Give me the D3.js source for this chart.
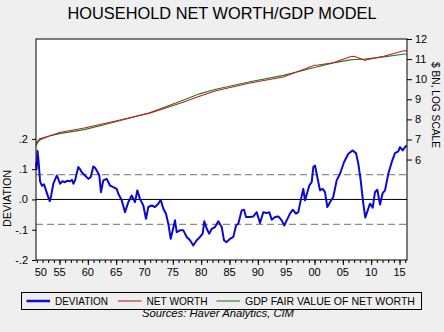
<!DOCTYPE html>
<html><head><meta charset="utf-8">
<script src="https://cdn.jsdelivr.net/npm/d3@7"></script>
<style>
body{margin:0;background:#efefef}
svg{display:block}
text{font-family:"Liberation Sans",Arial,sans-serif;fill:#000}
</style>
</head><body>
<svg id="chart" width="444" height="332"></svg>
<script>
// Household net worth vs. GDP-implied fair value (log levels) and their deviation
const title = "HOUSEHOLD NET WORTH/GDP MODEL";

// Deviation of log net worth from fair value (left axis)
const devYears = [1950.85,1950.94,1951.12,1951.29,1951.56,1951.91,1952.26,1952.62,1952.97,1953.27,1953.5,1953.91,1954.51,1954.74,1955.09,1955.53,1955.97,1956.32,1956.85,1957.2,1957.44,1957.74,1958.32,1958.62,1958.92,1959.5,1960.08,1960.51,1960.96,1961.26,1961.56,1962.02,1962.32,1962.73,1963.33,1963.91,1964.49,1965.09,1965.38,1965.98,1966.56,1967.14,1967.74,1968.32,1968.73,1969.2,1969.79,1970.26,1970.67,1971.27,1971.85,1972.43,1972.86,1973.32,1973.79,1974.2,1974.62,1974.98,1975.38,1975.68,1976.26,1976.85,1977.45,1978.03,1978.61,1979.21,1979.79,1980.27,1980.55,1980.98,1981.43,1981.86,1982.44,1983.02,1983.62,1984.03,1984.5,1985.09,1985.67,1986.15,1986.55,1987.15,1987.56,1987.91,1988.62,1989.2,1989.8,1990.38,1990.96,1991.56,1992.02,1992.45,1993.03,1993.61,1994.21,1994.67,1995.09,1995.67,1996.15,1996.73,1997.14,1997.56,1998.02,1998.32,1998.73,1999.08,1999.5,1999.79,2000.09,2000.49,2000.97,2001.44,2001.85,2002.26,2002.73,2003.31,2003.91,2004.5,2005.2,2005.96,2006.74,2007.32,2007.73,2008.15,2008.61,2008.96,2009.39,2009.79,2010.27,2010.67,2011.08,2011.56,2012.03,2012.44,2013.02,2013.62,2014.2,2014.78,2015.08,2015.56,2015.97,2016.27];
const devValues = [0.12,0.10,0.16,0.13,0.06,0.045,0.05,0.03,0.01,-0.006,0.01,0.052,0.079,0.07,0.052,0.06,0.057,0.062,0.060,0.065,0.052,0.063,0.107,0.10,0.09,0.079,0.068,0.074,0.109,0.105,0.096,0.079,0.024,0.063,0.068,0.046,0.041,0.035,0.019,-0.003,-0.042,-0.009,0.013,-0.009,0.030,0.002,-0.02,-0.064,-0.025,-0.02,-0.025,-0.014,-0.001,-0.031,-0.047,-0.08,-0.13,-0.102,-0.069,-0.108,-0.102,-0.102,-0.124,-0.135,-0.152,-0.135,-0.124,-0.113,-0.072,-0.097,-0.113,-0.097,-0.091,-0.072,-0.091,-0.135,-0.141,-0.13,-0.124,-0.086,-0.08,-0.036,-0.034,-0.058,-0.058,-0.056,-0.042,-0.078,-0.042,-0.045,-0.042,-0.067,-0.058,-0.056,-0.069,-0.086,-0.069,-0.047,-0.034,-0.047,-0.042,-0.003,0.035,-0.003,0.024,0.046,0.057,0.107,0.112,0.074,0.030,0.035,0.024,-0.025,-0.009,0.008,0.063,0.085,0.123,0.151,0.162,0.153,0.118,0.063,-0.014,-0.06,-0.036,-0.014,-0.027,0.024,0.032,-0.017,0.021,0.030,0.085,0.123,0.153,0.159,0.173,0.162,0.173,0.178];

// Log levels, $ bn (right axis)
const levelYears = [1950.85,1951.5,1953.2,1955.0,1959.4,1965.1,1970.9,1976.8,1979.7,1982.6,1988.6,1994.5,2000.0,2000.4,2003.3,2006.3,2007.0,2008.9,2009.2,2012.2,2015.6,2016.27];
const netWorth  = [6.82,7.03,7.17,7.35,7.57,7.93,8.31,8.85,9.15,9.42,9.81,10.11,10.69,10.69,10.82,11.12,11.14,10.94,10.97,11.14,11.40,11.42];
const fairValue = [6.70,6.97,7.17,7.29,7.49,7.89,8.33,8.95,9.27,9.50,9.87,10.19,10.58,10.61,10.81,10.96,10.98,11.00,11.01,11.11,11.24,11.25];

const bandValue = 0.082;
const devTicks = [-0.2,-0.1,0,0.1,0.2];
const devTickLabels = ["-.2","-.1",".0",".1",".2"];
const logTicks = [6,7,8,9,10,11,12];
const yearTicks = [1950,1955,1960,1965,1970,1975,1980,1985,1990,1995,2000,2005,2010,2015];
const yearTickLabels = ["50","55","60","65","70","75","80","85","90","95","00","05","10","15"];
const legendLabels = ["DEVIATION","NET WORTH","GDP FAIR VALUE OF NET WORTH"];
const sourceText = "Sources:  Haver Analytics, CIM";

const colors = {dev:"#0a0ad2", nw:"#bf1e1e", fv:"#237a23"};

const svg = d3.select("#chart");
const m = {left:36, right:407, top:39, bottom:260};

const x = d3.scaleLinear().domain([1950.85, 2016.32]).range([m.left, m.right]);
const yDev = d3.scaleLinear().domain([-0.2, 0.53]).range([m.bottom, m.top]);
const yLog = d3.scaleLinear().domain([1, 12]).range([m.bottom, m.top]);

// title
svg.append("text").attr("x", 222).attr("y", 19).attr("text-anchor","middle")
  .attr("font-size", 17).attr("textLength", 309).attr("lengthAdjust","spacingAndGlyphs")
  .text(title);

// plot background
svg.append("rect").attr("x", m.left).attr("y", m.top)
  .attr("width", m.right - m.left).attr("height", m.bottom - m.top).attr("fill", "#fff");

// reference lines
svg.append("line").attr("x1", m.left).attr("x2", m.right)
  .attr("y1", yDev(0)).attr("y2", yDev(0)).attr("stroke", "#000").attr("stroke-width", 1);
[bandValue, -bandValue].forEach(v => {
  svg.append("line").attr("x1", m.left).attr("x2", m.right)
    .attr("y1", yDev(v)).attr("y2", yDev(v))
    .attr("stroke", "#8c8c8c").attr("stroke-width", 1.2).attr("stroke-dasharray", "7,4");
});

// series
const lineLog = d3.line().x(d => x(d[0])).y(d => yLog(d[1]));
svg.append("path").datum(d3.zip(levelYears, fairValue)).attr("d", lineLog)
  .attr("fill","none").attr("stroke", colors.fv).attr("stroke-width", 1.1);
svg.append("path").datum(d3.zip(levelYears, netWorth)).attr("d", lineLog)
  .attr("fill","none").attr("stroke", colors.nw).attr("stroke-width", 1.1);

const lineDev = d3.line().x(d => x(d[0])).y(d => yDev(d[1]));
svg.append("path").datum(d3.zip(devYears, devValues)).attr("d", lineDev)
  .attr("fill","none").attr("stroke", colors.dev).attr("stroke-width", 2).attr("stroke-linejoin","round");

// frame
svg.append("rect").attr("x", m.left).attr("y", m.top)
  .attr("width", m.right - m.left).attr("height", m.bottom - m.top)
  .attr("fill", "none").attr("stroke", "#000").attr("stroke-width", 1);

// left axis
const gl = svg.append("g").attr("transform", `translate(${m.left},0)`)
  .call(d3.axisLeft(yDev).tickValues(devTicks).tickSize(4).tickPadding(4)
    .tickFormat((d,i) => devTickLabels[i]));
gl.select(".domain").remove();
gl.selectAll("text").attr("font-size", 11).attr("font-family", "Liberation Sans, Arial, sans-serif");

// right axis
const gr = svg.append("g").attr("transform", `translate(${m.right},0)`)
  .call(d3.axisRight(yLog).tickValues(logTicks).tickSize(5).tickPadding(3).tickFormat(d3.format("d")));
gr.select(".domain").remove();
gr.selectAll("text").attr("font-size", 11).attr("font-family", "Liberation Sans, Arial, sans-serif");

// bottom axis: yearly minor ticks, 5-year major ticks
const minorYears = d3.range(1951, 2017);
const gm = svg.append("g").attr("transform", `translate(0,${m.bottom})`)
  .call(d3.axisBottom(x).tickValues(minorYears).tickSize(3).tickFormat(""));
gm.select(".domain").remove();
const gM = svg.append("g").attr("transform", `translate(0,${m.bottom})`)
  .call(d3.axisBottom(x).tickValues(yearTicks.filter(t => t >= x.domain()[0])).tickSize(5).tickFormat(""));
gM.select(".domain").remove();
svg.append("g").selectAll("text").data(yearTicks).join("text")
  .attr("x", d => x(Math.max(d, x.domain()[0] + 0.85)))
  .attr("y", 276).attr("text-anchor", "middle").attr("font-size", 11)
  .text((d,i) => yearTickLabels[i]);

// axis titles
svg.append("text").attr("transform", "translate(10.5,198.5) rotate(-90)")
  .attr("text-anchor","middle").attr("font-size", 10.5)
  .attr("textLength", 57).attr("lengthAdjust","spacingAndGlyphs").text("DEVIATION");
svg.append("text").attr("transform", "translate(432,105) rotate(90)")
  .attr("text-anchor","middle").attr("font-size", 10.5)
  .attr("textLength", 86).attr("lengthAdjust","spacingAndGlyphs").text("$ BN, LOG SCALE");

// legend
const lg = svg.append("g");
lg.append("rect").attr("x", 21.5).attr("y", 292.5).attr("width", 400).attr("height", 17)
  .attr("fill", "#efefef").attr("stroke", "#000").attr("stroke-width", 1);
const legendItems = [
  {label: legendLabels[0], color: colors.dev, w: 2.5, x0: 26.5, x1: 50, tx: 55, tl: 53},
  {label: legendLabels[1], color: colors.nw, w: 1.1, x0: 118, x1: 141.5, tx: 146.5, tl: 61},
  {label: legendLabels[2], color: colors.fv, w: 1.1, x0: 216.5, x1: 240, tx: 245, tl: 170}
];
legendItems.forEach(it => {
  lg.append("line").attr("x1", it.x0).attr("x2", it.x1).attr("y1", 301).attr("y2", 301)
    .attr("stroke", it.color).attr("stroke-width", it.w);
  lg.append("text").attr("x", it.tx).attr("y", 304.8).attr("font-size", 10.5)
    .attr("textLength", it.tl).attr("lengthAdjust", "spacingAndGlyphs").text(it.label);
});

// source note
svg.append("text").attr("x", 218).attr("y", 317).attr("text-anchor","middle")
  .attr("font-size", 10.5).attr("font-style","italic")
  .attr("textLength", 152).attr("lengthAdjust","spacingAndGlyphs").text(sourceText);
</script>
</body></html>
